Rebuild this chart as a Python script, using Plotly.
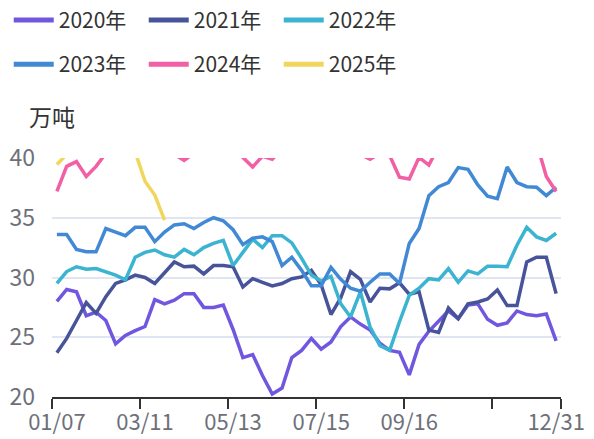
import plotly.graph_objects as go

# ---- data ----
dates = ["01/07", "01/14", "01/21", "01/28", "02/04", "02/11", "02/18", "02/25", "03/04", "03/11",
         "03/18", "03/25", "04/01", "04/08", "04/15", "04/22", "04/29", "05/06", "05/13", "05/20",
         "05/27", "06/03", "06/10", "06/17", "06/24", "07/01", "07/08", "07/15", "07/22", "07/29",
         "08/05", "08/12", "08/19", "08/26", "09/02", "09/09", "09/16", "09/23", "09/30", "10/07",
         "10/14", "10/21", "10/28", "11/04", "11/11", "11/18", "11/25", "12/02", "12/09", "12/16",
         "12/23", "12/31"]

y2020 = [28.0, 29.0, 28.8, 26.8, 27.1, 26.4, 24.45, 25.15, 25.55, 25.9,
         28.15, 27.8, 28.1, 28.65, 28.65, 27.5, 27.5, 27.7, 25.65, 23.3,
         23.55, 21.8, 20.25, 20.75, 23.3, 23.9, 24.9, 24.0, 24.6, 25.9,
         26.7, 26.1, 25.6, 24.5, 23.9, 23.75, 21.85, 24.4, 25.5, 26.3,
         27.2, 26.55, 27.7, 27.8, 26.5, 26.0, 26.2, 27.2, 26.9, 26.8,
         26.95, 24.7]
y2021 = [23.7, 24.9, 26.4, 27.9, 27.0, 28.4, 29.5, 29.8, 30.2, 30.0,
         29.5, 30.4, 31.3, 30.9, 30.95, 30.3, 31.0, 31.0, 30.9, 29.2,
         29.9, 29.6, 29.3, 29.5, 29.9, 30.05, 30.6, 29.4, 26.9, 28.3,
         30.5, 29.85, 27.95, 29.1, 29.05, 29.55, 28.6, 28.8, 25.6, 25.4,
         27.45, 26.55, 27.8, 27.95, 28.2, 28.95, 27.65, 27.65, 31.3, 31.7,
         31.7, 28.65]
y2022 = [29.5, 30.5, 30.9, 30.7, 30.75, 30.5, 30.2, 29.8, 31.7, 32.1,
         32.3, 31.9, 31.7, 32.35, 31.9, 32.5, 32.85, 33.1, 31.0, 32.1,
         33.2, 32.5, 33.5, 33.5, 32.9, 31.6, 30.2, 29.7, 30.1, 27.8,
         26.7, 28.8, 25.85, 24.3, 23.9, 26.3, 28.5, 29.1, 29.9, 29.8,
         30.75, 29.6, 30.55, 30.3, 30.95, 30.95, 30.9, 32.7, 34.2, 33.4,
         33.1, 33.7]
y2023 = [33.6, 33.6, 32.35, 32.15, 32.15, 34.1, 33.8, 33.5, 34.2, 34.2,
         33.0, 33.8, 34.4, 34.5, 34.1, 34.6, 35.0, 34.75, 34.0, 32.75,
         33.3, 33.4, 33.0, 31.0, 31.7, 30.6, 29.3, 29.3, 30.85, 29.85,
         29.1, 28.85, 29.6, 30.3, 30.3, 29.5, 32.85, 34.1, 36.85, 37.6,
         37.95, 39.2, 39.05, 37.75, 36.8, 36.6, 39.25, 37.95, 37.6, 37.55,
         36.85, 37.55]
y2024 = [37.2, 39.3, 39.7, 38.45, 39.3, 40.5, 41.5, 42.0, 41.2, 41.8,
         42.5, 41.0, 40.3, 39.8, 40.4, 41.5, 42.0, 41.2, 40.6, 40.05,
         39.25, 40.15, 39.9, 40.8, 41.8, 42.5, 43.0, 42.2, 41.5, 41.0,
         40.6, 40.3, 39.9, 40.4, 40.2, 38.4, 38.25, 40.05, 39.4, 41.0,
         42.0, 42.5, 43.0, 42.4, 42.0, 41.6, 42.2, 42.8, 42.3, 41.3,
         38.45, 37.2]
y2025 = [39.45, 40.3, 41.0, 42.0, 42.5, 43.0, 42.0, 41.0, 40.5, 38.05, 36.9, 34.8]

series_names = ["2020年", "2021年", "2022年", "2023年", "2024年", "2025年"]
y_ticks = [20, 25, 30, 35, 40]
label_idx = [0, 9, 18, 27, 36, 51]

# ---- styles ----
colors = ["#7157e0", "#48549a", "#3ab4d0", "#4289d5", "#f25fa5", "#f2d65b"]
legend_ids = ["legend", "legend", "legend", "legend2", "legend2", "legend2"]
FONT = "Noto Sans CJK SC, Noto Sans, sans-serif"

idx = list(range(len(dates)))
all_series = [y2020, y2021, y2022, y2023, y2024, y2025]

fig = go.Figure()
for name, vals, col in zip(series_names, all_series, colors):
    fig.add_trace(go.Scatter(
        x=idx[:len(vals)], y=vals, mode="lines", name=name,
        line=dict(color=col, width=3.5), showlegend=False, hoverinfo="skip",
    ))
# legend entries (thicker sample lines, as in the reference)
for name, col, lg in zip(series_names, colors, legend_ids):
    fig.add_trace(go.Scatter(
        x=[None], y=[None], mode="lines", name=name,
        line=dict(color=col, width=5), legend=lg, hoverinfo="skip",
    ))

boundaries = [i - 0.5 for i in range(0, len(dates), 9)] + [len(dates) - 0.5]

legend_common = dict(orientation="h", xanchor="left", yanchor="middle",
                     font=dict(size=21, color="#333333", family=FONT),
                     itemwidth=40,
                     entrywidth=80, entrywidthmode="pixels", bgcolor="rgba(0,0,0,0)")

fig.update_layout(
    width=594, height=439,
    margin=dict(l=52, r=33, t=158, b=42, autoexpand=False),
    paper_bgcolor="white", plot_bgcolor="white",
    font=dict(family=FONT),
    showlegend=True,
    legend=dict(x=-0.085, y=1.576, **legend_common),
    legend2=dict(x=-0.085, y=1.391, **legend_common),
    xaxis=dict(
        range=[-0.5, len(dates) - 0.5], tickmode="array",
        tickvals=label_idx, ticktext=[dates[i] for i in label_idx],
        ticks="outside", ticklen=5, tickcolor="rgba(0,0,0,0)",
        showline=True, linecolor="#333333", linewidth=2,
        showgrid=False, zeroline=False,
        tickfont=dict(size=22, color="#6e7079", family=FONT),
        minor=dict(tickmode="array", tickvals=boundaries, ticks="outside",
                   ticklen=10, tickwidth=2, tickcolor="#333333", showgrid=False),
    ),
    yaxis=dict(
        range=[20, 40], tickmode="array", tickvals=y_ticks,
        showgrid=True, gridcolor="#e0e6f1", gridwidth=1.8,
        zeroline=False, showline=False, ticks="",
        ticklabelstandoff=16,
        tickfont=dict(size=23, color="#6e7079", family=FONT),
    ),
    annotations=[dict(text="万吨", xref="paper", yref="paper", x=0, y=1.1775,
                      xanchor="center", yanchor="middle", showarrow=False,
                      font=dict(size=23, color="#333333", family=FONT))],
)

fig.write_html("out.html", config={"displayModeBar": False},
               post_script="document.body.style.margin='0px';")
